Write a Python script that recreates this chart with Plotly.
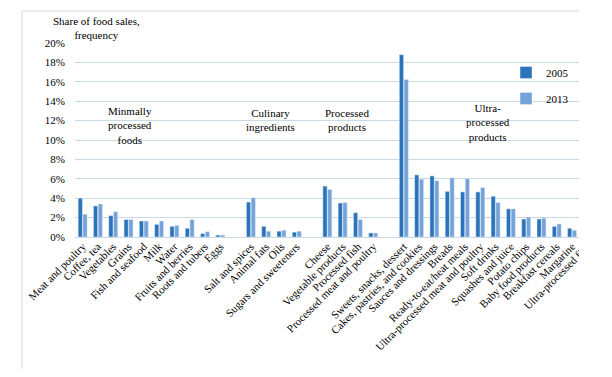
import plotly.graph_objects as go

# ---- data ----
group_names = ["Minmally<br>processed<br>foods", "Culinary<br>ingredients",
               "Processed<br>products", "Ultra-<br>processed<br>products"]

minimal_cats = ["Meat and poultry", "Coffee, tea", "Vegetables", "Grains", "Fish and seafood",
                "Milk", "Water", "Fruits and berries", "Roots and tubers", "Eggs"]
minimal_2005 = [4.0, 3.2, 2.2, 1.8, 1.65, 1.3, 1.1, 0.9, 0.35, 0.2]
minimal_2013 = [2.35, 3.4, 2.6, 1.8, 1.65, 1.65, 1.2, 1.8, 0.55, 0.2]

culinary_cats = ["Salt and spices", "Animal fats", "Oils", "Sugars and sweeteners"]
culinary_2005 = [3.6, 1.1, 0.6, 0.5]
culinary_2013 = [4.05, 0.6, 0.7, 0.6]

processed_cats = ["Cheese", "Vegetable products", "Processed fish", "Processed meat and poultry"]
processed_2005 = [5.25, 3.5, 2.5, 0.42]
processed_2013 = [4.9, 3.55, 1.8, 0.42]

ultra_cats = ["Sweets, snacks, dessert", "Cakes, pastries, and cookies", "Sauces and dressings",
              "Breads", "Ready-to-eat/heat meals", "Ultra-processed meat and poultry",
              "Soft drinks", "Squashes and juice", "Potato chips", "Baby food products",
              "Breakfast cereals", "Margarine", "Ultra-processed fish"]
ultra_2005 = [18.8, 6.4, 6.3, 4.7, 4.65, 4.65, 4.2, 2.9, 1.85, 1.85, 1.1, 0.9, None]
ultra_2013 = [16.25, 5.95, 5.8, 6.1, 6.0, 5.1, 3.55, 2.9, 2.05, 1.95, 1.35, 0.7, None]

y_ticks = [0, 2, 4, 6, 8, 10, 12, 14, 16, 18, 20]
y_tick_labels = ["0%", "2%", "4%", "6%", "8%", "10%", "12%", "14%", "16%", "18%", "20%"]

groups = [
    (minimal_cats, minimal_2005, minimal_2013),
    (culinary_cats, culinary_2005, culinary_2013),
    (processed_cats, processed_2005, processed_2013),
    (ultra_cats, ultra_2005, ultra_2013),
]

# category slots, one empty slot between groups
xs, labels, v2005, v2013 = [], [], [], []
pos = 0
for gi, (cats, a, b) in enumerate(groups):
    if gi > 0:
        pos += 1
    for c, va, vb in zip(cats, a, b):
        xs.append(pos); labels.append(c); v2005.append(va); v2013.append(vb)
        pos += 1
last_slot = xs[-1]

FONT = "Liberation Serif"
C05 = "#2B74BA"
C13 = "#74A3DA"

# the page body adds an 8px margin; size the figure to fit the 612x377 window exactly
OFF = 8
W, H = 596, 361
L, R, T, B = 67, 9, 35, 132
pw, ph = W - L - R, H - T - B
def px_x(px):
    return (px - OFF - L) / pw
def px_y(py):
    return (H - B - (py - OFF)) / ph

fig = go.Figure()
fig.add_trace(go.Bar(x=xs, y=v2005, name="2005", marker_color=C05, legendgroup="a"))
fig.add_trace(go.Bar(x=xs, y=v2013, name="2013", marker_color=C13, legendgroup="b"))

label_specs = [(3.1, 11.5), (12.25, 12.1), (17.3, 12.1), (26.5, 11.8)]
for name, (gx, gy) in zip(group_names, label_specs):
    fig.add_annotation(x=gx, y=gy, xref="x", yref="y", text=name, showarrow=False,
                       xanchor="center", yanchor="middle",
                       font=dict(family=FONT, size=11, color="black"), align="center")

fig.add_annotation(x=px_x(96), y=px_y(28), xref="paper", yref="paper",
                   xanchor="center", yanchor="middle",
                   text="Share of food sales,<br>frequency", showarrow=False,
                   font=dict(family=FONT, size=11, color="black"), align="center")

# white cover: the original chart image is cropped at the right
fig.add_shape(type="rect", xref="paper", yref="paper", x0=px_x(579), x1=px_x(640),
              y0=px_y(420), y1=px_y(-20), fillcolor="white",
              line=dict(width=0), layer="above")
# frame lines
fig.add_shape(type="line", xref="paper", yref="paper", x0=px_x(22), x1=px_x(22),
              y0=px_y(11), y1=px_y(420), line=dict(color="#D9D9D9", width=1))
fig.add_shape(type="line", xref="paper", yref="paper", x0=px_x(22), x1=px_x(579),
              y0=px_y(11), y1=px_y(11), line=dict(color="#D9D9D9", width=1))

fig.update_layout(
    width=W, height=H,
    margin=dict(l=L, r=R, t=T, b=B, autoexpand=False),
    paper_bgcolor="white", plot_bgcolor="white",
    barmode="group", bargap=0.38, bargroupgap=0.1,
    font=dict(family=FONT, size=11, color="black"),
    legend=dict(x=px_x(506), y=px_y(58), xanchor="left", yanchor="top",
                bgcolor="rgba(0,0,0,0)", font=dict(family=FONT, size=11, color="black"),
                tracegroupgap=7, traceorder="grouped"),
)
fig.update_xaxes(range=[-0.5, last_slot + 0.5], tickmode="array", tickvals=xs, ticktext=labels,
                 tickangle=-45, showgrid=False, showline=False, zeroline=False, ticks="",
                 tickfont=dict(family=FONT, size=11, color="black"), automargin=False)
fig.update_yaxes(range=[0, 20], tickmode="array", tickvals=y_ticks, ticktext=y_tick_labels,
                 showgrid=True, gridcolor="#C9D9E8", gridwidth=1, zeroline=True,
                 zerolinecolor="#C9D9E8", zerolinewidth=1, showline=False, ticks="",
                 ticklabelstandoff=9, automargin=False,
                 tickfont=dict(family=FONT, size=11, color="black"))

fig.write_html("out.html")
